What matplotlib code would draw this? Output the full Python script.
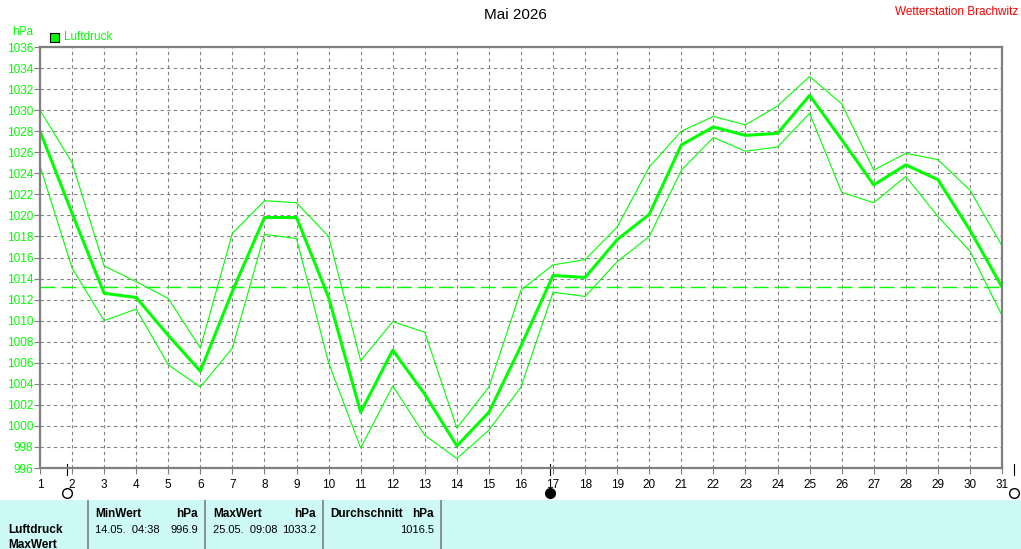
import numpy as np
import matplotlib.pyplot as plt

plt.rcParams['font.family'] = ['Liberation Sans', 'DejaVu Sans']

days = np.arange(1, 32)
mittel = [1028.0, 1020.2, 1012.6, 1012.2, 1008.6, 1005.2, 1012.8, 1019.8, 1019.8, 1012.2,
          1001.3, 1007.2, 1003.0, 998.1, 1001.3, 1007.6, 1014.3, 1014.1, 1017.7, 1020.1,
          1026.7, 1028.4, 1027.6, 1027.8, 1031.4, 1027.2, 1022.9, 1024.8, 1023.4, 1018.6, 1013.2]
maxw = [1030.0, 1025.0, 1015.2, 1013.7, 1012.1, 1007.4, 1018.3, 1021.4, 1021.2, 1018.0,
        1006.2, 1009.9, 1008.9, 999.8, 1003.7, 1012.9, 1015.3, 1015.8, 1018.9, 1024.6,
        1028.0, 1029.4, 1028.6, 1030.4, 1033.2, 1030.6, 1024.3, 1025.9, 1025.3, 1022.4, 1017.1]
minw = [1024.7, 1015.0, 1010.0, 1011.1, 1005.8, 1003.7, 1007.4, 1018.2, 1017.8, 1006.0,
        997.9, 1003.8, 999.1, 996.9, 999.6, 1003.7, 1012.7, 1012.3, 1015.6, 1018.0,
        1024.3, 1027.4, 1026.1, 1026.5, 1029.7, 1022.2, 1021.2, 1023.7, 1019.9, 1016.6, 1010.5]
linie = 1013.2

# moon phases (day position, filled?)
mond_tage = [1.83, 16.89, 31.37]
mond_voll = [False, True, False]

# table
kopf = ['MinWert', 'MaxWert', 'Durchschnitt']
zeit = ['14.05.  04:38', '25.05.  09:08', '']
wert = ['996.9', '1033.2', '1016.5']

gruen = '#00ff00'
grau = '#808080'

fig = plt.figure(figsize=(10.21, 5.49), dpi=100)
W, H = 1021, 549
ax = fig.add_axes([40 / W, 1 - 468 / H, 962 / W, 421 / H])

ax.plot(days, maxw, color=gruen, lw=0.8)
ax.plot(days, minw, color=gruen, lw=0.8)
ax.plot(days, mittel, color=gruen, lw=2.2)
ax.axhline(linie, color=gruen, lw=1.0, dashes=(10.8, 4.3))

ax.set_xlim(1, 31)
ax.set_ylim(996, 1036)
ax.set_xticks(days)
ax.set_yticks(np.arange(996, 1037, 2))
ax.grid(True, color=grau, ls=(0, (3, 3)), lw=0.8)
ax.tick_params(axis='y', colors=grau, labelcolor=gruen, labelsize=8.5, length=4, pad=1)
ax.tick_params(axis='x', colors=grau, labelcolor='black', labelsize=8.5, length=4, pad=4)
for s in ax.spines.values():
    s.set_color(grau)
    s.set_linewidth(1.6)

# moon markers below the axis
for t, voll in zip(mond_tage, mond_voll):
    ax.plot([t, t], [0.01, -0.017], transform=ax.get_xaxis_transform(),
            color='black', lw=0.8, clip_on=False)
    ax.plot(t, -0.06, 'o', ms=7, transform=ax.get_xaxis_transform(), clip_on=False,
            mfc='black' if voll else 'white', mec='black', mew=1)

fig.text(515 / W, 1 - 15 / H, 'Mai 2026', ha='center', va='center', fontsize=11)
fig.text(1018 / W, 1 - 12 / H, 'Wetterstation Brachwitz', ha='right', va='center',
         fontsize=8.5, color='red')
fig.text(12 / W, 1 - 32 / H, 'hPa', ha='left', va='center', fontsize=8.5, color=gruen)
fig.patches.append(plt.Rectangle((50 / W, 1 - 42 / H), 9 / W, 9 / H, transform=fig.transFigure,
                                 facecolor=gruen, edgecolor='black', lw=0.8))
fig.text(64 / W, 1 - 37 / H, 'Luftdruck', ha='left', va='center', fontsize=8.5, color=gruen)

# table at bottom
tab = fig.add_axes([0, 0, 1, 49 / H])
tab.set_xlim(0, W)
tab.set_ylim(49, 0)
tab.axis('off')
tab.add_patch(plt.Rectangle((0, 0), W, 49, facecolor='#cdf9f6', edgecolor='none'))
for xs in [88, 205, 323, 441]:
    tab.plot([xs, xs], [0, 49], color=grau, lw=1.2)
tab.text(8, 30, 'Luftdruck', fontsize=8.5, fontweight='bold', va='center')
tab.text(8, 45, 'MaxWert', fontsize=8.5, fontweight='bold', va='center')
spalten = [(95, 198), (213, 316), (330, 434)]
for (xl, xr), k, z, w in zip(spalten, kopf, zeit, wert):
    tab.text(xl, 14, k, fontsize=8.5, fontweight='bold', va='center')
    tab.text(xr, 14, 'hPa', fontsize=8.5, fontweight='bold', va='center', ha='right')
    tab.text(xl, 30, z, fontsize=8, va='center')
    tab.text(xr, 30, w, fontsize=8, va='center', ha='right')

fig.savefig('out.png', dpi=100)
